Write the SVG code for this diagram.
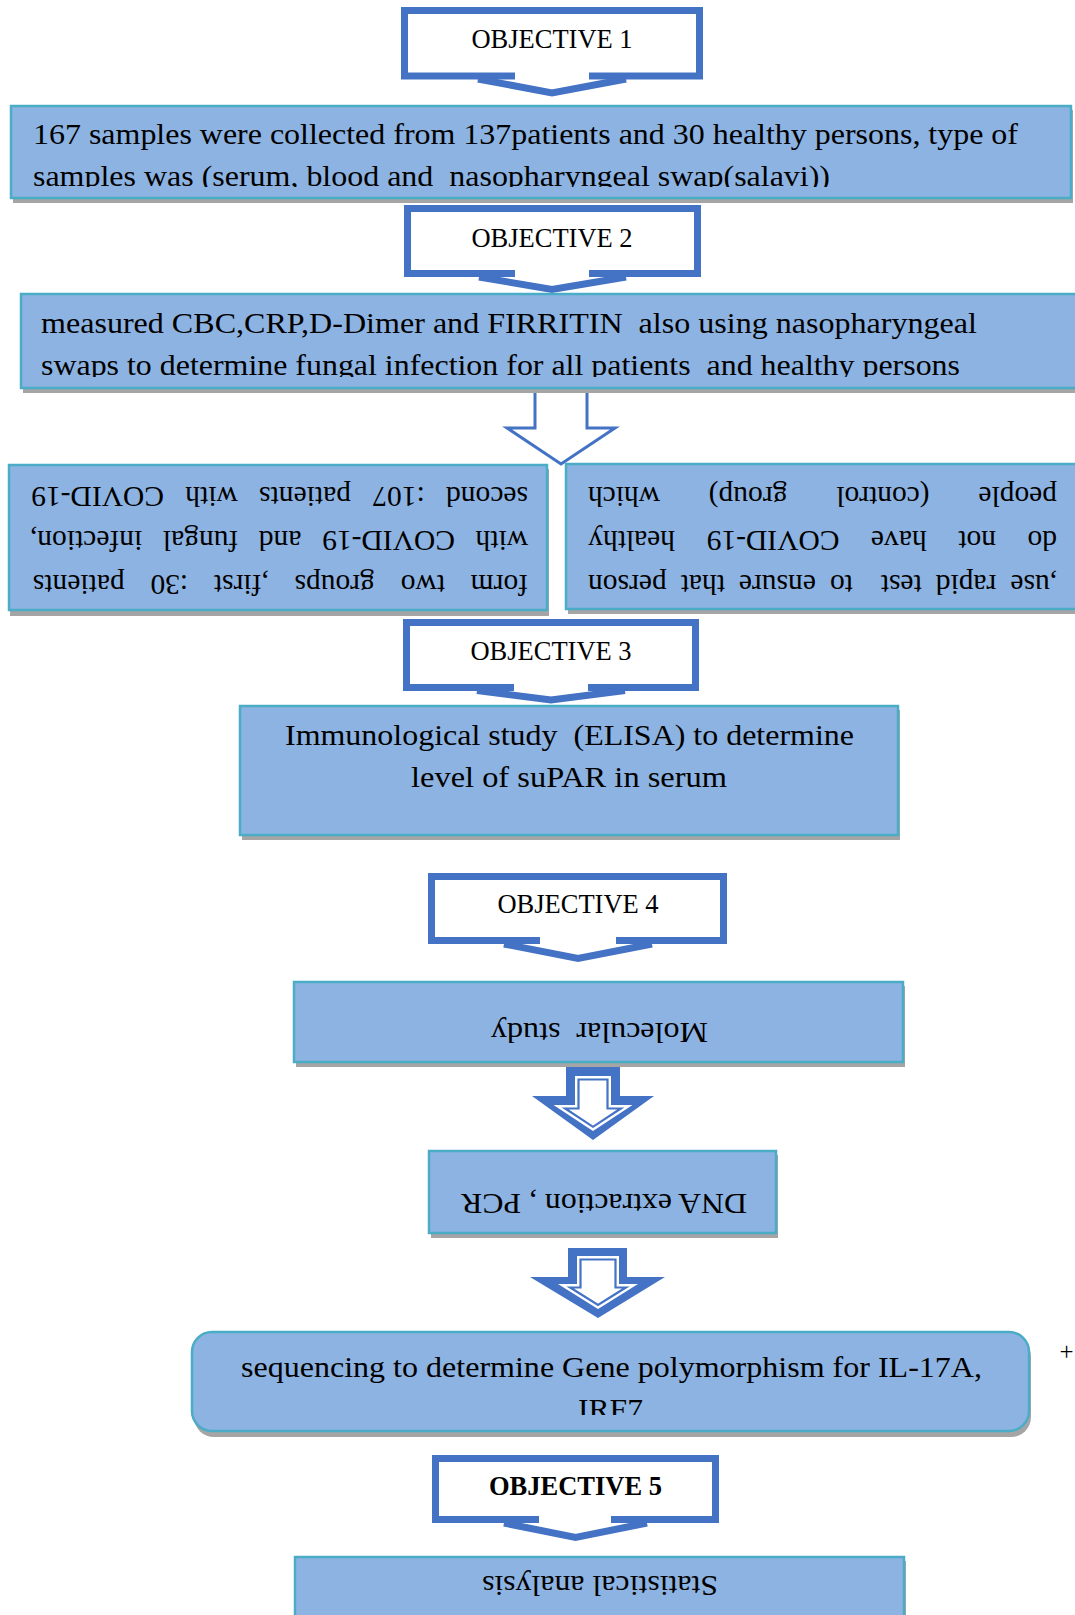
<svg xmlns="http://www.w3.org/2000/svg" width="1075" height="1615" viewBox="0 0 1075 1615">
<defs>
<style>
.box{fill:#8DB3E2;stroke:#4BACC6;stroke-width:2.5}
.shadow{fill:#A5A5A5}
.callout{fill:#fff;stroke:#4472C4;stroke-width:7}
.neck{fill:#fff}
.chev{fill:none;stroke:#4472C4;stroke-width:7;stroke-linejoin:miter}
.t{font-family:"Liberation Serif","Times New Roman",serif;font-size:30px;fill:#000}
.r{font-family:"Liberation Serif","Times New Roman",serif;font-size:29.5px;fill:#000}
.obj{font-family:"Liberation Serif","Times New Roman",serif;font-size:26.5px;fill:#000;text-anchor:middle}
.hollow{fill:#fff;stroke:#4472C4;stroke-width:3;stroke-linejoin:miter}
.dblout{fill:#4472C4}
.dblwhite{fill:#fff}
.dblin{fill:#fff;stroke:#4472C4;stroke-width:2.2}
</style>
<clipPath id="clip1"><rect x="0" y="106" width="1075" height="81"/></clipPath>
<clipPath id="clip2"><rect x="0" y="294" width="1075" height="83"/></clipPath>
<clipPath id="clip3"><rect x="0" y="1333" width="1075" height="82"/></clipPath>
</defs>

<g id="connectors">
<polygon class="hollow" points="535,388 587,388 587,428 615,428 561,464 507,428 535,428"/>
<g id="dblarrow1">
<polygon class="dblout" points="566,1067 620,1067 620,1096 654,1096 593,1140 532,1096 566,1096"/>
<polygon class="dblwhite" points="575,1076 611,1076 611,1105 632.5,1105 593,1131 553.5,1105 575,1105"/>
<polygon class="dblin" points="578.5,1079.5 607.5,1079.5 607.5,1108.5 620.8,1108.5 593,1126.8 565.2,1108.5 578.5,1108.5"/>
</g>
<g id="dblarrow2">
<polygon class="dblout" points="568,1248 627,1248 627,1277 665,1277 598,1318 530,1277 568,1277"/>
<polygon class="dblwhite" points="577,1256 619,1256 619,1284 638,1284 598,1309 558,1284 577,1284"/>
<polygon class="dblin" points="580.5,1259.5 615.5,1259.5 615.5,1287.5 625.8,1287.5 598,1304.9 570.2,1287.5 580.5,1287.5"/>
</g>
</g>

<g id="obj1">
<rect class="callout" x="404.5" y="10.5" width="295" height="65.5"/>
<rect class="neck" x="515" y="72" width="74" height="8"/>
<path class="chev" d="M478,79 L552,93 L626,79"/>
<text class="obj" x="552" y="47.7">OBJECTIVE 1</text>
</g>

<g id="box1">
<rect class="shadow" x="13" y="110" width="1060" height="93"/>
<rect class="box" x="11" y="106" width="1060" height="92"/>
<text class="t" x="33" y="144" textLength="985" lengthAdjust="spacingAndGlyphs">167 samples were collected from 137patients and 30 healthy persons, type of</text>
<g clip-path="url(#clip1)">
<text class="t" x="33" y="185.5" textLength="797" lengthAdjust="spacingAndGlyphs" xml:space="preserve">samples was (serum, blood and  nasopharyngeal swap(salavi))</text>
</g>
</g>

<g id="obj2">
<rect class="callout" x="407.5" y="208.5" width="290" height="65"/>
<rect class="neck" x="515" y="270" width="74" height="8"/>
<path class="chev" d="M479,277 L552,289.5 L626,277"/>
<text class="obj" x="552" y="247">OBJECTIVE 2</text>
</g>

<g id="box2">
<rect class="shadow" x="23" y="298" width="1070" height="95"/>
<rect class="box" x="21" y="294" width="1070" height="94"/>
<text class="t" x="41" y="333" textLength="936" lengthAdjust="spacingAndGlyphs" xml:space="preserve">measured CBC,CRP,D-Dimer and FIRRITIN  also using nasopharyngeal</text>
<g clip-path="url(#clip2)">
<text class="t" x="41" y="375" textLength="919" lengthAdjust="spacingAndGlyphs" xml:space="preserve">swaps to determine fungal infection for all patients  and healthy persons</text>
</g>
</g>

<g id="boxLeft">
<rect class="shadow" x="10" y="469" width="539" height="147"/>
<rect class="box" x="9" y="465" width="538" height="145"/>
<g transform="rotate(180 278 537.5)">
<text class="r" x="28" y="500.5" style="word-spacing:18.4px">form two groups ,first :30 patients</text>
<text class="r" x="28" y="544.5" style="word-spacing:13.3px">with COVID-19 and fungal infection,</text>
<text class="r" x="28" y="588" style="word-spacing:14px">second :107 patients with COVID-19</text>
</g>
</g>

<g id="boxRight">
<rect class="shadow" x="568" y="468" width="520" height="146"/>
<rect class="box" x="566" y="464" width="520" height="145"/>
<g transform="rotate(180 820 537.5)">
<text class="r" x="583" y="500.5" style="word-spacing:6.6px" xml:space="preserve">,use rapid test  to ensure that person</text>
<text class="r" x="583" y="544.5" style="word-spacing:24.2px">do not have COVID-19 healthy</text>
<text class="r" x="583" y="588" style="word-spacing:41.4px">people (control group) which</text>
</g>
</g>

<g id="obj3">
<rect class="callout" x="406.5" y="622.5" width="289" height="65"/>
<rect class="neck" x="514" y="684" width="74" height="8"/>
<path class="chev" d="M477,690.5 L551,700 L625,690.5"/>
<text class="obj" x="551" y="660">OBJECTIVE 3</text>
</g>

<g id="boxElisa">
<rect class="shadow" x="242" y="710" width="658" height="130"/>
<rect class="box" x="240" y="706" width="658" height="129"/>
<text class="t" x="285" y="745" textLength="569" lengthAdjust="spacingAndGlyphs" xml:space="preserve">Immunological study  (ELISA) to determine</text>
<text class="t" x="411" y="787" textLength="316" lengthAdjust="spacingAndGlyphs">level of suPAR in serum</text>
</g>

<g id="obj4">
<rect class="callout" x="431.5" y="876.5" width="292" height="64"/>
<rect class="neck" x="540" y="937" width="76" height="8"/>
<path class="chev" d="M504,944 L578,958.5 L652,944"/>
<text class="obj" x="578" y="913">OBJECTIVE 4</text>
</g>

<g id="boxMolecular">
<rect class="shadow" x="296" y="986" width="609" height="81"/>
<rect class="box" x="294" y="982" width="609" height="80"/>
<text class="t" x="491" y="1022.5" textLength="217" lengthAdjust="spacingAndGlyphs" transform="rotate(180 599.5 1022.5)" xml:space="preserve">Molecular  study</text>
</g>

<g id="boxDNA">
<rect class="shadow" x="431" y="1155" width="347" height="83"/>
<rect class="box" x="429" y="1151" width="347" height="82"/>
<text class="t" x="461" y="1194" textLength="286" lengthAdjust="spacingAndGlyphs" transform="rotate(180 604 1194)">DNA extraction , PCR</text>
</g>

<g id="boxSequencing">
<rect class="shadow" x="194" y="1337" width="837" height="100" rx="20"/>
<rect class="box" x="192" y="1332" width="837" height="99" rx="20"/>
<text class="t" x="241" y="1377" textLength="741" lengthAdjust="spacingAndGlyphs">sequencing to determine Gene polymorphism for IL-17A,</text>
<g clip-path="url(#clip3)">
<text class="t" x="578" y="1419" textLength="65" lengthAdjust="spacingAndGlyphs">IRF7</text>
</g>
</g>

<g id="plus">
<text x="1066.5" y="1360" font-family="Liberation Serif, Times New Roman, serif" font-size="25" text-anchor="middle">+</text>
</g>

<g id="obj5">
<rect class="callout" x="435.5" y="1458.5" width="280" height="61"/>
<rect class="neck" x="539" y="1516" width="72" height="8"/>
<path class="chev" d="M504,1523 L575.5,1537.5 L647,1523"/>
<text class="obj" x="575.5" y="1495" font-weight="bold">OBJECTIVE 5</text>
</g>

<g id="boxStat">
<rect class="shadow" x="297" y="1561" width="609" height="70"/>
<rect class="box" x="295" y="1557" width="609" height="70"/>
<text class="t" x="482" y="1576" textLength="236" lengthAdjust="spacingAndGlyphs" transform="rotate(180 600 1576)">Statistical analysis</text>
</g>
</svg>
